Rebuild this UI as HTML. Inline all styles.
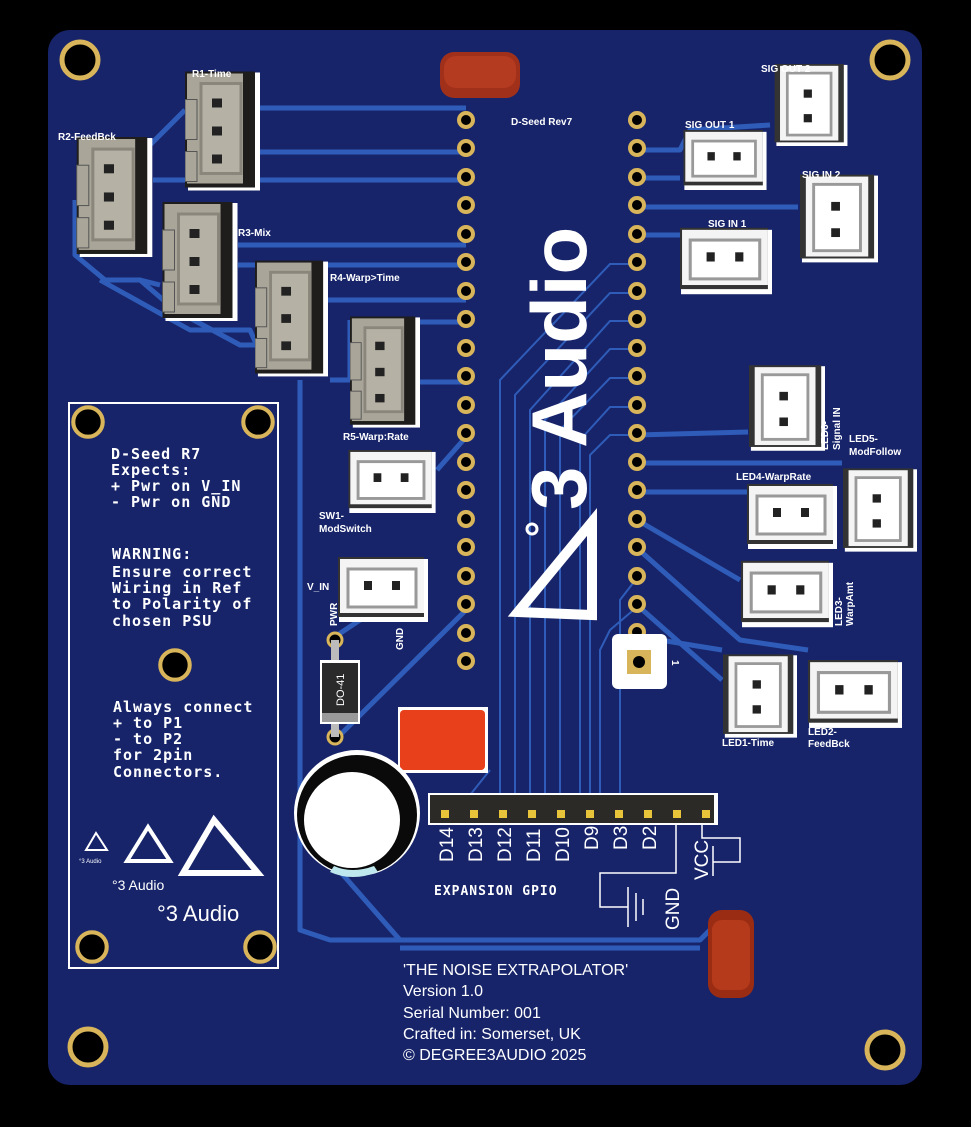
<!DOCTYPE html>
<html><head><meta charset="utf-8"><style>
html,body{margin:0;padding:0;background:#000;}
svg{display:block;}
text{font-family:"Liberation Sans",sans-serif;fill:#fff;}
.s{font-weight:bold;font-size:10px;}
.m{font-family:"DejaVu Sans Mono","Liberation Mono",monospace;font-size:15px;font-weight:bold;letter-spacing:1px;}
</style></head><body>
<svg width="971" height="1127" viewBox="0 0 971 1127" xmlns="http://www.w3.org/2000/svg">
<defs>
<symbol id="g3" viewBox="0 0 75 120">
<rect x="3" y="1" width="72" height="118" fill="#fff"/>
<rect x="0" y="0" width="70" height="116" fill="#1e1d1b"/>
<rect x="2" y="2" width="56" height="110" fill="#a9a599"/>
<rect x="16" y="12" width="40" height="90" fill="#b5b1a5" stroke="#8a867b" stroke-width="3"/>
<rect x="0" y="28" width="12" height="40" fill="#a9a599" stroke="#555" stroke-width="1"/>
<rect x="0" y="80" width="12" height="30" fill="#a9a599" stroke="#555" stroke-width="1"/>
<rect x="27" y="27" width="10" height="9" fill="#222"/>
<rect x="27" y="55" width="10" height="9" fill="#222"/>
<rect x="27" y="83" width="10" height="9" fill="#222"/>
</symbol>
<symbol id="h2" viewBox="0 0 90 65">
<rect x="1" y="2" width="89" height="63" fill="#fff"/>
<rect x="0" y="0" width="86" height="60" fill="#333"/>
<rect x="2" y="2" width="84" height="54" fill="#f4f4f4"/>
<rect x="10" y="12" width="68" height="38" fill="#fff" stroke="#999" stroke-width="3"/>
<rect x="26" y="24" width="8" height="9" fill="#222"/>
<rect x="54" y="24" width="8" height="9" fill="#222"/>
</symbol>
<symbol id="v2" viewBox="0 0 80 90">
<rect x="2" y="1" width="78" height="89" fill="#fff"/>
<rect x="0" y="0" width="76" height="86" fill="#333"/>
<rect x="6" y="2" width="64" height="82" fill="#f4f4f4"/>
<rect x="14" y="10" width="48" height="68" fill="#fff" stroke="#999" stroke-width="3"/>
<rect x="32" y="28" width="9" height="9" fill="#222"/>
<rect x="32" y="55" width="9" height="9" fill="#222"/>
</symbol>
<symbol id="hole" viewBox="0 0 44 44"><circle cx="22" cy="22" r="18" fill="#000" stroke="#d8b45a" stroke-width="5"/></symbol>
<symbol id="pad" viewBox="0 0 20 20"><circle cx="10" cy="10" r="7" fill="#000" stroke="#d8b45a" stroke-width="4"/></symbol>
</defs>
<rect x="0" y="0" width="971" height="1127" fill="#000"/>
<rect x="48" y="30" width="874" height="1055" rx="22" fill="#17246a"/>

<!-- traces -->
<g fill="none" stroke="#2f5cb8" stroke-width="5" stroke-linejoin="round">
<polyline points="260,108 466,108"/>
<polyline points="260,152 466,152"/>
<polyline points="153,180 466,180"/>
<polyline points="238,245 466,245"/>
<polyline points="238,265 466,265"/>
<polyline points="328,300 466,300"/>
<polyline points="420,322 466,322"/>
<polyline points="420,382 466,382"/>
<polyline points="185,110 150,145"/>
<polyline points="75,200 75,255 105,280 140,280 175,310 240,345 255,345"/>
<polyline points="100,280 190,330 250,330 270,375"/>
<polyline points="160,285 140,280"/>
<polyline points="350,320 350,380 330,380"/>
<polyline points="300,380 300,930 330,940 700,940 720,920"/>
<polyline points="330,640 390,600"/>
<polyline points="335,740 466,610"/>
<polyline points="330,860 400,940"/>
<polyline points="437,470 466,437"/>
<polyline points="637,150 680,150 690,130 770,125"/>
<polyline points="637,178 680,178"/>
<polyline points="637,207 798,207"/>
<polyline points="637,235 680,235"/>
<polyline points="637,435 748,432"/>
<polyline points="637,463 842,463"/>
<polyline points="637,492 747,492"/>
<polyline points="637,520 740,580"/>
<polyline points="637,548 740,640 808,650"/>
<polyline points="637,605 722,680"/>
<polyline points="660,640 722,650"/>
<polyline points="400,948 700,948"/>
</g>
<g fill="none" stroke="#2f5cb8" stroke-width="2">
<polyline points="637,264 610,264 500,380 500,795"/>
<polyline points="637,293 610,293 515,395 515,795"/>
<polyline points="637,321 610,321 530,410 530,795"/>
<polyline points="637,349 610,349 545,420 545,795"/>
<polyline points="637,378 610,378 560,430 560,795"/>
<polyline points="637,407 610,407 580,440 580,795"/>
<polyline points="637,435 610,435 590,455 590,795"/>
<polyline points="637,607 610,630 600,650 600,795"/>
<polyline points="637,578 620,600 620,795"/>
<polyline points="470,795 490,770"/>
</g>

<!-- mounting holes -->
<use href="#hole" x="58" y="38" width="44" height="44"/>
<use href="#hole" x="868" y="38" width="44" height="44"/>
<use href="#hole" x="66" y="1025" width="44" height="44"/>
<use href="#hole" x="863" y="1028" width="44" height="44"/>

<!-- pads left -->
<g>
<use href="#pad" x="456" y="110" width="20" height="20"/><use href="#pad" x="456" y="138" width="20" height="20"/><use href="#pad" x="456" y="167" width="20" height="20"/><use href="#pad" x="456" y="195" width="20" height="20"/><use href="#pad" x="456" y="224" width="20" height="20"/><use href="#pad" x="456" y="252" width="20" height="20"/><use href="#pad" x="456" y="281" width="20" height="20"/><use href="#pad" x="456" y="309" width="20" height="20"/><use href="#pad" x="456" y="338" width="20" height="20"/><use href="#pad" x="456" y="366" width="20" height="20"/><use href="#pad" x="456" y="395" width="20" height="20"/><use href="#pad" x="456" y="423" width="20" height="20"/><use href="#pad" x="456" y="452" width="20" height="20"/><use href="#pad" x="456" y="480" width="20" height="20"/><use href="#pad" x="456" y="509" width="20" height="20"/><use href="#pad" x="456" y="537" width="20" height="20"/><use href="#pad" x="456" y="566" width="20" height="20"/><use href="#pad" x="456" y="594" width="20" height="20"/><use href="#pad" x="456" y="623" width="20" height="20"/><use href="#pad" x="456" y="651" width="20" height="20"/>
</g>
<g>
<use href="#pad" x="627" y="110" width="20" height="20"/><use href="#pad" x="627" y="138" width="20" height="20"/><use href="#pad" x="627" y="167" width="20" height="20"/><use href="#pad" x="627" y="195" width="20" height="20"/><use href="#pad" x="627" y="224" width="20" height="20"/><use href="#pad" x="627" y="252" width="20" height="20"/><use href="#pad" x="627" y="281" width="20" height="20"/><use href="#pad" x="627" y="309" width="20" height="20"/><use href="#pad" x="627" y="338" width="20" height="20"/><use href="#pad" x="627" y="366" width="20" height="20"/><use href="#pad" x="627" y="395" width="20" height="20"/><use href="#pad" x="627" y="423" width="20" height="20"/><use href="#pad" x="627" y="452" width="20" height="20"/><use href="#pad" x="627" y="480" width="20" height="20"/><use href="#pad" x="627" y="509" width="20" height="20"/><use href="#pad" x="627" y="537" width="20" height="20"/><use href="#pad" x="627" y="566" width="20" height="20"/><use href="#pad" x="627" y="594" width="20" height="20"/><use href="#pad" x="627" y="622" width="20" height="20"/>
</g>
<rect x="612" y="634" width="55" height="55" rx="6" fill="#fff"/>
<rect x="627" y="650" width="24" height="24" fill="#d8b45a"/>
<circle cx="639" cy="662" r="6" fill="#000"/>
<text x="672" y="668" class="s" transform="rotate(90 676 664)">1</text>

<text x="511" y="125" class="s">D-Seed Rev7</text>

<!-- big logo -->
<text x="0" y="0" transform="translate(586,510) rotate(-90)" style="font-size:78px;font-weight:bold;">3 Audio</text>
<circle cx="532" cy="529" r="5" fill="none" stroke="#fff" stroke-width="3"/>
<polygon points="592,522 592,615 518,612" fill="none" stroke="#fff" stroke-width="10" stroke-linejoin="miter"/>

<!-- left connectors -->
<use href="#g3" x="185" y="70" width="75" height="123"/>
<use href="#g3" x="76" y="137" width="77" height="121"/>
<use href="#g3" x="162" y="202" width="76" height="120"/>
<use href="#g3" x="255" y="260" width="73" height="118"/>
<use href="#g3" x="350" y="315" width="70" height="115"/>
<text x="192" y="77" class="s">R1-Time</text>
<text x="58" y="140" class="s">R2-FeedBck</text>
<text x="238" y="236" class="s">R3-Mix</text>
<text x="330" y="281" class="s">R4-Warp&gt;Time</text>
<text x="343" y="440" class="s">R5-Warp:Rate</text>

<use href="#h2" x="347" y="450" width="90" height="63"/>
<text x="319" y="519" class="s">SW1-</text>
<text x="319" y="532" class="s">ModSwitch</text>
<use href="#h2" x="338" y="557" width="90" height="65"/>
<text x="307" y="590" class="s">V_IN</text>
<text x="0" y="0" class="s" transform="translate(337,626) rotate(-90)">PWR</text>
<text x="0" y="0" class="s" transform="translate(403,650) rotate(-90)">GND</text>

<!-- right connectors -->
<use href="#v2" x="772" y="64" width="78" height="82"/>
<text x="761" y="72" class="s">SIG OUT 2</text>
<use href="#h2" x="680" y="130" width="90" height="60"/>
<text x="685" y="128" class="s">SIG OUT 1</text>
<use href="#v2" x="800" y="172" width="78" height="93"/>
<text x="802" y="178" class="s">SIG IN 2</text>
<use href="#h2" x="680" y="225" width="92" height="72"/>
<text x="708" y="227" class="s">SIG IN 1</text>
<use href="#v2" x="749" y="364" width="76" height="88"/>
<text x="0" y="0" class="s" transform="translate(828,450) rotate(-90)">LED6-</text>
<text x="0" y="0" class="s" transform="translate(840,450) rotate(-90)">Signal IN</text>
<text x="849" y="442" class="s">LED5-</text>
<text x="849" y="455" class="s">ModFollow</text>
<use href="#v2" x="843" y="466" width="74" height="88"/>
<use href="#h2" x="747" y="483" width="90" height="67"/>
<text x="736" y="480" class="s">LED4-WarpRate</text>
<use href="#h2" x="741" y="559" width="92" height="70"/>
<text x="0" y="0" class="s" transform="translate(842,626) rotate(-90)">LED3-</text>
<text x="0" y="0" class="s" transform="translate(853,626) rotate(-90)">WarpAmt</text>
<use href="#v2" x="723" y="652" width="74" height="88"/>
<text x="722" y="746" class="s">LED1-Time</text>
<use href="#h2" x="808" y="658" width="94" height="72"/>
<text x="808" y="735" class="s">LED2-</text>
<text x="808" y="747" class="s">FeedBck</text>

<!-- caps -->
<rect x="440" y="52" width="80" height="46" rx="14" fill="#a0301a"/>
<rect x="444" y="56" width="72" height="32" rx="12" fill="#b43a20"/>
<rect x="398" y="707" width="90" height="66" fill="#fff"/>
<rect x="400" y="710" width="85" height="60" rx="4" fill="#e8401a"/>
<rect x="708" y="910" width="46" height="88" rx="14" fill="#9a2c14"/>
<rect x="712" y="920" width="38" height="70" rx="10" fill="#b53a1c"/>
<circle cx="357" cy="813" r="63" fill="#fff"/>
<circle cx="357" cy="815" r="60" fill="#0a0a0a"/>
<circle cx="352" cy="820" r="48" fill="#fff"/>
<path d="M330 872 Q352 882 378 872 L374 866 Q352 874 334 866Z" fill="#bfe8ee"/>

<!-- diode -->
<circle cx="335" cy="640" r="7" fill="#000" stroke="#d8b45a" stroke-width="3"/>
<circle cx="335" cy="737" r="7" fill="#000" stroke="#d8b45a" stroke-width="3"/>
<rect x="331" y="640" width="8" height="97" fill="#bbb"/>
<rect x="320" y="660" width="40" height="64" fill="#fff"/>
<rect x="322" y="663" width="36" height="50" fill="#2a2a2a"/>
<rect x="322" y="713" width="36" height="9" fill="#999"/>
<text x="0" y="0" transform="translate(344,706) rotate(-90)" style="font-size:11px;">DO-41</text>

<!-- GPIO header -->
<rect x="428" y="793" width="290" height="32" fill="#fff"/>
<rect x="430" y="795" width="284" height="28" fill="#2b2a27"/>
<g fill="#e8c43a">
<rect x="441" y="810" width="8" height="8"/><rect x="470" y="810" width="8" height="8"/><rect x="499" y="810" width="8" height="8"/><rect x="528" y="810" width="8" height="8"/><rect x="557" y="810" width="8" height="8"/><rect x="586" y="810" width="8" height="8"/><rect x="615" y="810" width="8" height="8"/><rect x="644" y="810" width="8" height="8"/><rect x="673" y="810" width="8" height="8"/><rect x="702" y="810" width="8" height="8"/>
</g>
<g style="font-size:19px;">
<text transform="translate(453,862) rotate(-90)">D14</text>
<text transform="translate(482,862) rotate(-90)">D13</text>
<text transform="translate(511,862) rotate(-90)">D12</text>
<text transform="translate(540,862) rotate(-90)">D11</text>
<text transform="translate(569,862) rotate(-90)">D10</text>
<text transform="translate(598,850) rotate(-90)">D9</text>
<text transform="translate(627,850) rotate(-90)">D3</text>
<text transform="translate(656,850) rotate(-90)">D2</text>
<text transform="translate(708,880) rotate(-90)">VCC</text>
<text transform="translate(679,930) rotate(-90)">GND</text>
</g>
<g fill="none" stroke="#fff" stroke-width="1.5">
<polyline points="676,825 676,873 600,873 600,907 628,907"/>
<line x1="628" y1="887" x2="628" y2="927"/><line x1="636" y1="893" x2="636" y2="921"/><line x1="643" y1="899" x2="643" y2="915"/>
<polyline points="702,825 702,838 740,838 740,862 713,862"/>
<line x1="713" y1="846" x2="713" y2="876"/>
</g>
<text x="434" y="895" class="m" style="font-size:13px;">EXPANSION GPIO</text>

<!-- left info box -->
<rect x="69" y="403" width="209" height="565" fill="none" stroke="#fff" stroke-width="2"/>
<use href="#hole" x="70" y="404" width="36" height="36"/>
<use href="#hole" x="240" y="404" width="36" height="36"/>
<use href="#hole" x="157" y="647" width="36" height="36"/>
<use href="#hole" x="74" y="929" width="36" height="36"/>
<use href="#hole" x="242" y="929" width="36" height="36"/>
<g class="m">
<text x="111" y="459" class="m">D-Seed R7</text>
<text x="111" y="475" class="m">Expects:</text>
<text x="111" y="491" class="m">+ Pwr on V_IN</text>
<text x="111" y="507" class="m">- Pwr on GND</text>
<text x="112" y="559" class="m">WARNING:</text>
<text x="112" y="577" class="m">Ensure correct</text>
<text x="112" y="593" class="m">Wiring in Ref</text>
<text x="112" y="609" class="m">to Polarity of</text>
<text x="112" y="626" class="m">chosen PSU</text>
<text x="113" y="712" class="m">Always connect</text>
<text x="113" y="728" class="m">+ to P1</text>
<text x="113" y="744" class="m">- to P2</text>
<text x="113" y="760" class="m">for 2pin</text>
<text x="113" y="777" class="m">Connectors.</text>
</g>
<g fill="none" stroke="#fff">
<polygon points="96,833 86,850 107,850" stroke-width="2"/>
<polygon points="148,827 127,861 170,861" stroke-width="4"/>
<polygon points="214,820 183,873 258,873" stroke-width="6"/>
</g>
<text x="79" y="863" style="font-size:6px;">°3 Audio</text>
<text x="112" y="890" style="font-size:14px;">°3 Audio</text>
<text x="157" y="921" style="font-size:22px;">°3 Audio</text>

<!-- bottom text -->
<g style="font-size:16px;">
<text x="403" y="975">'THE NOISE EXTRAPOLATOR'</text>
<text x="403" y="996">Version 1.0</text>
<text x="403" y="1018">Serial Number: 001</text>
<text x="403" y="1039">Crafted in: Somerset, UK</text>
<text x="403" y="1060">© DEGREE3AUDIO 2025</text>
</g>
</svg>
</body></html>
